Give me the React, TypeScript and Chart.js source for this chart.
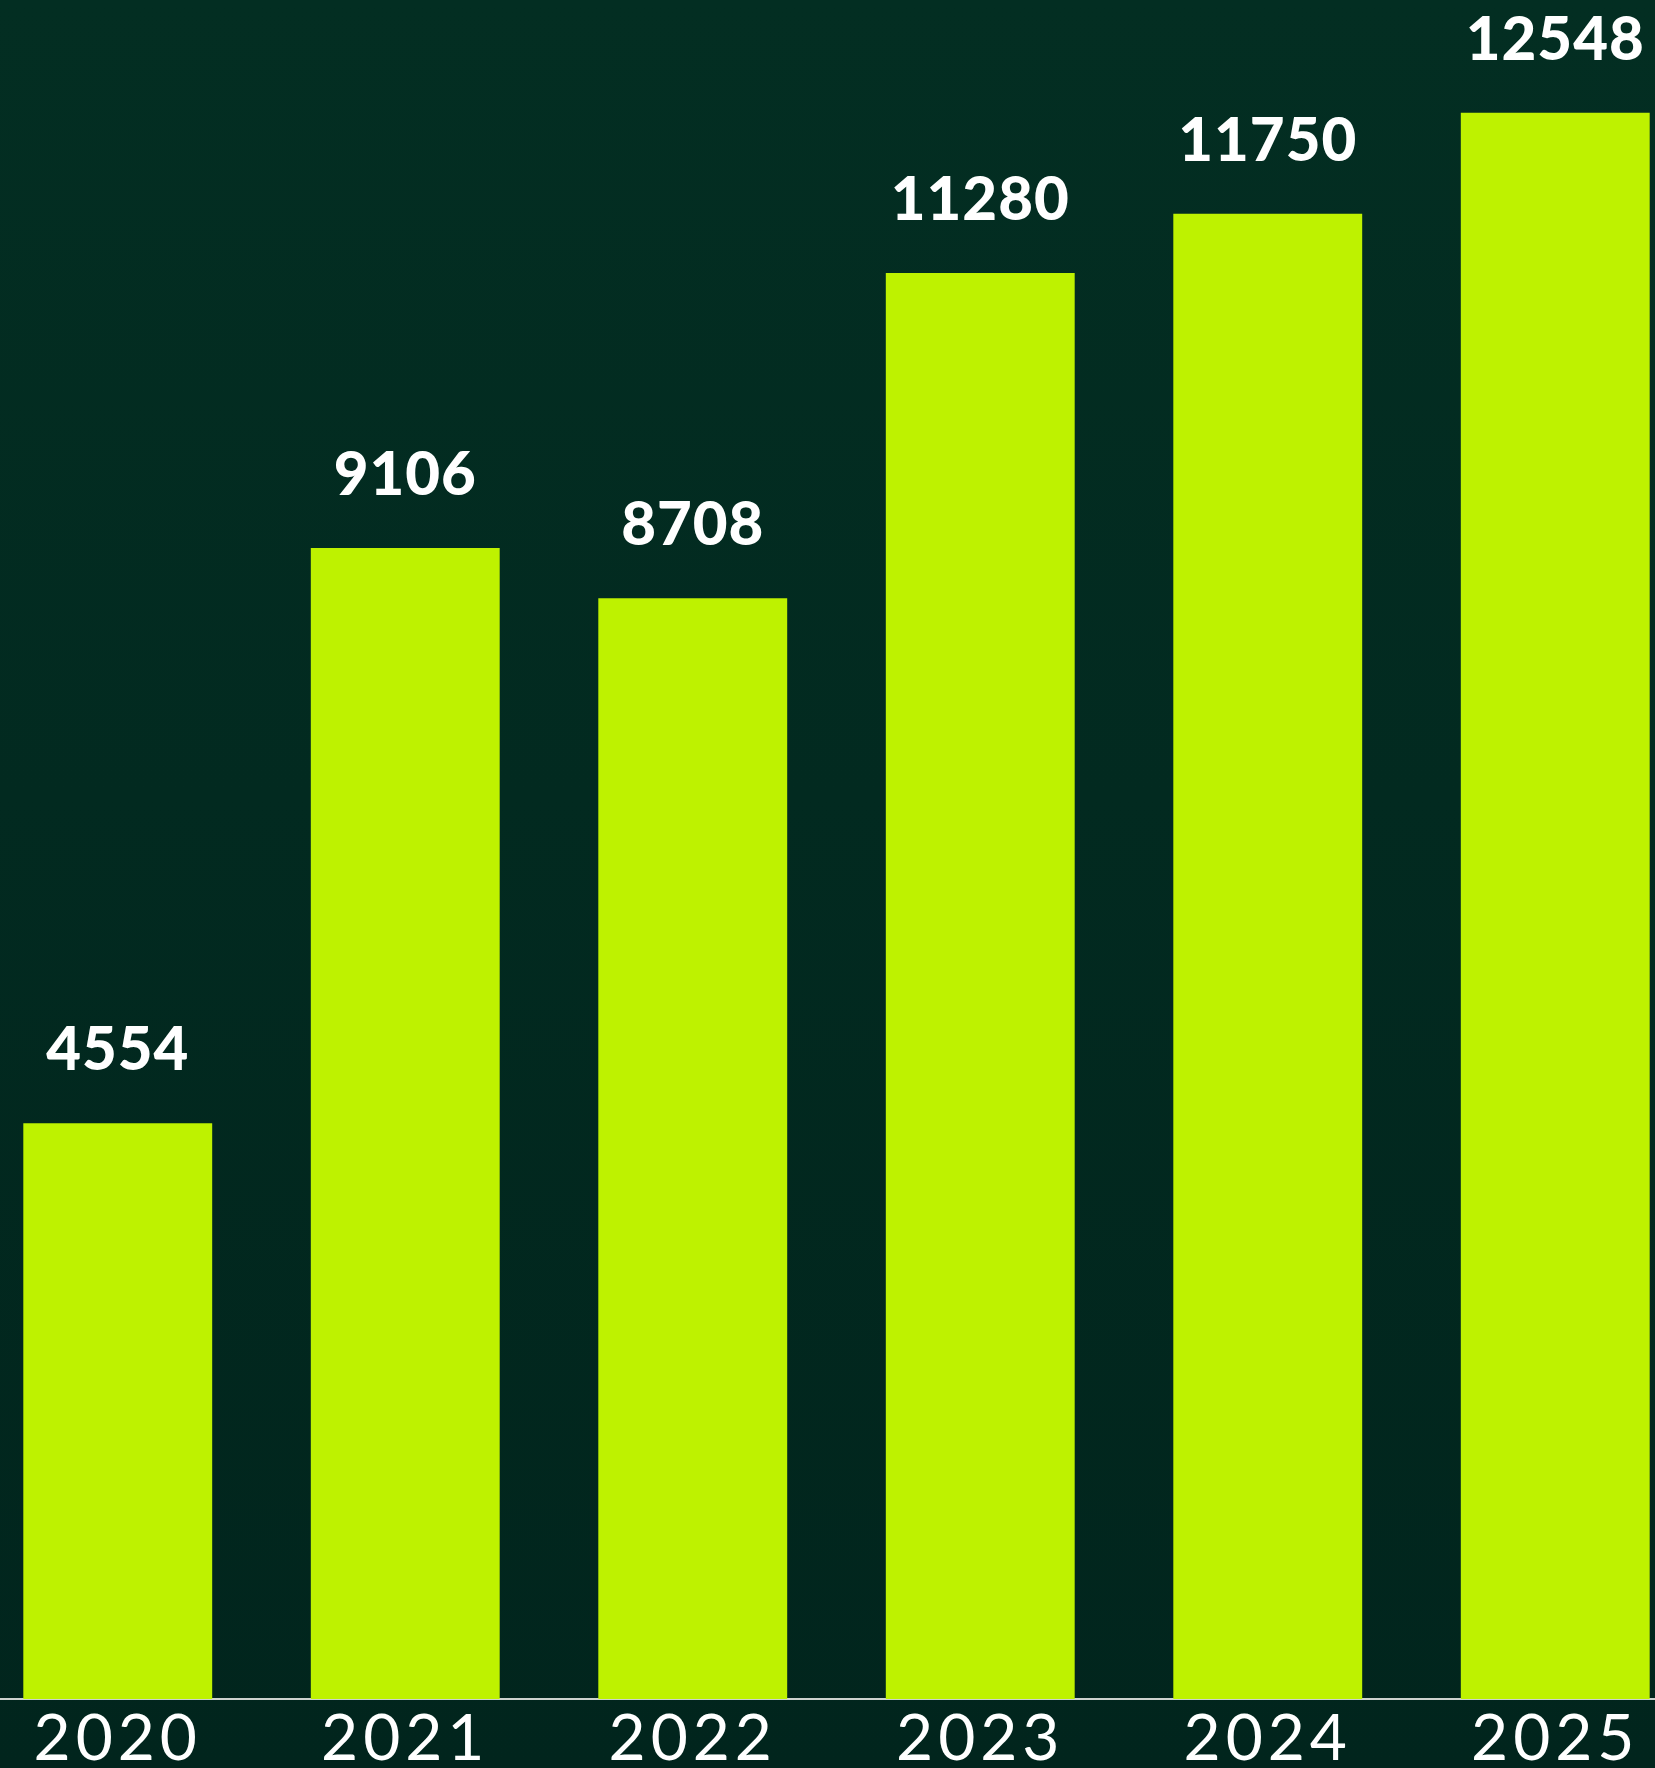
import React, { useEffect, useRef } from "react";
import { Chart, registerables } from "chart.js";

Chart.register(...registerables);

const YEARS: string[] = ["2020", "2021", "2022", "2023", "2024", "2025"];
const VALUES: number[] = [4554, 9106, 8708, 11280, 11750, 12548];
const Y_MAX = 13440;

export default function App() {
  const ref = useRef<HTMLCanvasElement>(null);

  useEffect(() => {
    document.body.style.margin = "0";
    const canvas = ref.current;
    if (!canvas) return;
    const ctx = canvas.getContext("2d");
    if (!ctx) return;

    const spacingPlugin = {
      id: "tickSpacing",
      beforeDraw(chart: any) {
        (chart.ctx as any).letterSpacing = "5px";
      },
      beforeDatasetsDraw(chart: any) {
        (chart.ctx as any).letterSpacing = "0px";
      },
    };

    const valueLabels = {
      id: "valueLabels",
      afterDatasetsDraw(chart: any) {
        const c = chart.ctx;
        const meta = chart.getDatasetMeta(0);
        c.save();
        (c as any).letterSpacing = "1px";
        c.fillStyle = "#ffffff";
        c.font = "900 60px Lato";
        c.textAlign = "center";
        c.textBaseline = "alphabetic";
        meta.data.forEach((bar: any, i: number) => {
          c.fillText(String(VALUES[i]), bar.x, bar.y - 53);
        });
        c.restore();
      },
    };

    const chart = new Chart(ctx, {
      type: "bar",
      data: {
        labels: YEARS,
        datasets: [
          {
            data: VALUES,
            backgroundColor: "#bef200",
            borderWidth: 0,
            barPercentage: 0.657,
            categoryPercentage: 1,
          },
        ],
      },
      options: {
        animation: false,
        responsive: true,
        maintainAspectRatio: false,
        layout: { padding: 0 },
        plugins: {
          legend: { display: false },
          tooltip: { enabled: false },
          title: { display: false },
        },
        scales: {
          x: {
            grid: { display: false, drawTicks: false },
            border: { display: true, color: "#cdd3cf", width: 2 },
            ticks: {
              color: "#ffffff",
              font: { family: "Lato", size: 64, weight: "normal", lineHeight: 1 },
              padding: 8,
              maxRotation: 0,
              autoSkip: false,
            },
            afterFit: (scale: any) => {
              scale.height = 69;
            },
          },
          y: {
            display: false,
            min: 0,
            max: Y_MAX,
          },
        },
      },
      plugins: [spacingPlugin, valueLabels],
    });

    return () => chart.destroy();
  }, []);

  return (
    <div
      style={{
        position: "relative",
        width: 1655,
        height: 1768,
        overflow: "hidden",
        background: "linear-gradient(180deg, #032e22 0%, #022a20 45%, #01251d 100%)",
      }}
    >
      <div style={{ position: "absolute", left: -26, top: 0, width: 1725, height: 1768 }}>
        <canvas ref={ref} />
      </div>
    </div>
  );
}
